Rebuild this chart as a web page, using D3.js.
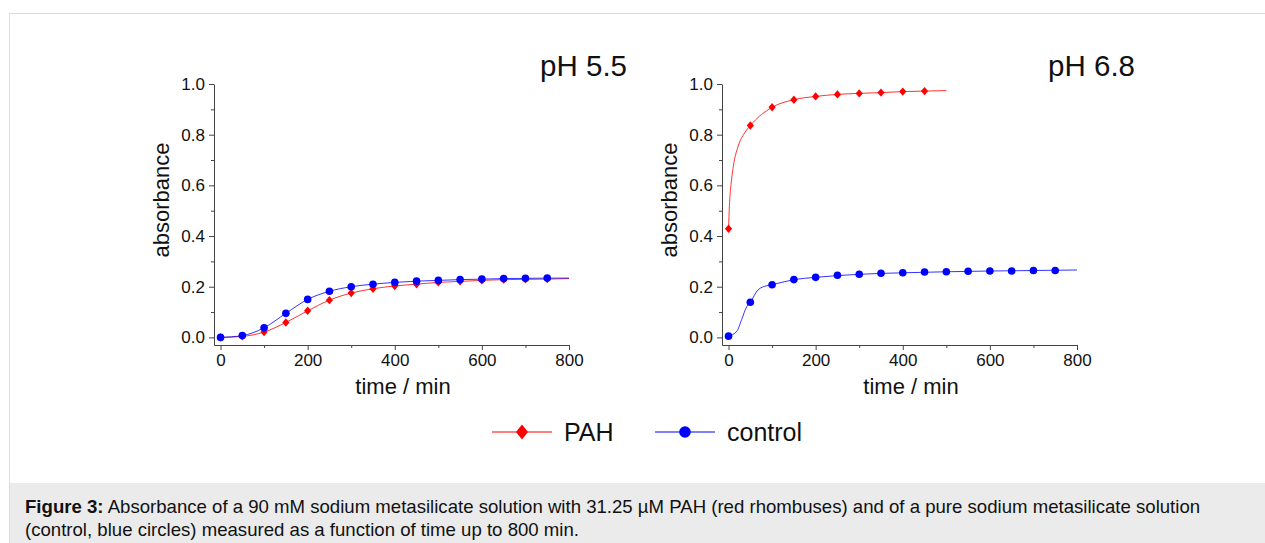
<!DOCTYPE html>
<html>
<head>
<meta charset="utf-8">
<script src="https://cdn.jsdelivr.net/npm/d3@7"></script>
<style>
  body { margin: 0; background: #fff; font-family: "Liberation Sans", Arial, sans-serif; }
  svg text { font-family: "Liberation Sans", Arial, sans-serif; }
</style>
</head>
<body>
<div id="chart"></div>
<script>
let width = 1265
let height = 543

// sampling times (min)
let times = [0, 50, 100, 150, 200, 250, 300, 350, 400, 450, 500, 550, 600, 650, 700, 750]

// pH 5.5 measured absorbance
let pah55 = [0.000, 0.004, 0.021, 0.059, 0.105, 0.147, 0.175, 0.192, 0.203, 0.210, 0.217, 0.221, 0.225, 0.228, 0.229, 0.230]
let ctrl55 = [0.000, 0.007, 0.038, 0.095, 0.150, 0.182, 0.200, 0.210, 0.217, 0.222, 0.225, 0.228, 0.230, 0.232, 0.233, 0.234]

// pH 6.8 measured absorbance (PAH only up to 450 min)
let pah68 = [0.429, 0.836, 0.908, 0.938, 0.951, 0.959, 0.963, 0.966, 0.970, 0.972]
let ctrl68 = [0.005, 0.139, 0.208, 0.228, 0.237, 0.245, 0.249, 0.253, 0.255, 0.258, 0.259, 0.261, 0.262, 0.262, 0.264, 0.264]

// fitted curves
let fitPah55T = [0, 50, 100, 150, 200, 250, 300, 350, 400, 450, 500, 550, 600, 650, 700, 750, 800]
let fitPah55 = [0.000, 0.004, 0.021, 0.059, 0.105, 0.147, 0.175, 0.192, 0.203, 0.210, 0.217, 0.221, 0.225, 0.228, 0.229, 0.230, 0.232]
let fitCtrl55T = [0, 50, 100, 150, 200, 250, 300, 350, 400, 450, 500, 550, 600, 650, 700, 750, 800]
let fitCtrl55 = [0.000, 0.007, 0.038, 0.095, 0.150, 0.182, 0.200, 0.210, 0.217, 0.222, 0.225, 0.228, 0.230, 0.232, 0.233, 0.234, 0.234]
let fitPah68T = [0, 2, 5, 11, 22, 37, 50, 100, 150, 200, 250, 300, 350, 400, 450, 500]
let fitPah68 = [0.429, 0.520, 0.590, 0.675, 0.754, 0.807, 0.836, 0.908, 0.938, 0.951, 0.959, 0.963, 0.966, 0.970, 0.972, 0.974]
let fitCtrl68T = [0, 19, 30, 42, 50, 68, 88, 100, 150, 200, 300, 400, 500, 600, 700, 800]
let fitCtrl68 = [0.005, 0.024, 0.070, 0.122, 0.139, 0.188, 0.204, 0.208, 0.228, 0.237, 0.249, 0.255, 0.259, 0.262, 0.264, 0.266]

let xTicks = [0, 200, 400, 600, 800]
let xMinor = [100, 300, 500, 700]
let yTicks = [0, 0.2, 0.4, 0.6, 0.8, 1.0]
let yMinor = [0.1, 0.3, 0.5, 0.7, 0.9]

let legendNames = ["PAH", "control"]
let red = "#ff0000"
let blue = "#0000ff"

let panels = [
  { title: "pH 5.5", left: 214, series: [
    { t: fitPah55T, v: fitPah55, pt: times, pv: pah55, color: red, shape: "diamond" },
    { t: fitCtrl55T, v: fitCtrl55, pt: times, pv: ctrl55, color: blue, shape: "circle" }
  ]},
  { title: "pH 6.8", left: 722, series: [
    { t: fitPah68T, v: fitPah68, pt: times.slice(0, pah68.length), pv: pah68, color: red, shape: "diamond" },
    { t: fitCtrl68T, v: fitCtrl68, pt: times, pv: ctrl68, color: blue, shape: "circle" }
  ]}
]

let svg = d3.select("#chart").append("svg")
  .attr("width", width)
  .attr("height", height)

// figure frame
svg.append("rect")
  .attr("x", 9.5).attr("y", 13.5)
  .attr("width", width).attr("height", height)
  .attr("fill", "#fff")
  .attr("stroke", "#dcdcdc")

// caption box
svg.append("rect")
  .attr("x", 10).attr("y", 483)
  .attr("width", width - 10).attr("height", height - 483)
  .attr("fill", "#ebebeb")

let diamond = (cx, cy, w, h) => `M${cx},${cy - h}L${cx + w},${cy}L${cx},${cy + h}L${cx - w},${cy}Z`

panels.forEach(p => {
  let x = d3.scaleLinear([-15, 800], [p.left, p.left + 355])
  let y = d3.scaleLinear([-0.03, 1.0], [345, 84])
  let g = svg.append("g")

  // minor ticks
  g.append("g").attr("transform", "translate(0,345)")
    .call(d3.axisBottom(x).tickValues(xMinor).tickSize(3).tickFormat(""))
    .call(a => a.select(".domain").remove())
  g.append("g").attr("transform", `translate(${p.left},0)`)
    .call(d3.axisLeft(y).tickValues(yMinor).tickSize(3).tickFormat(""))
    .call(a => a.select(".domain").remove())

  let xAxis = g.append("g").attr("transform", "translate(0,345)")
    .call(d3.axisBottom(x).tickValues(xTicks).tickSize(5).tickSizeOuter(0).tickPadding(4))
  let yAxis = g.append("g").attr("transform", `translate(${p.left},0)`)
    .call(d3.axisLeft(y).tickValues(yTicks).tickSize(5).tickSizeOuter(0).tickPadding(4).tickFormat(d3.format(".1f")))
  g.selectAll(".tick line, .domain").attr("stroke", "#444")
  g.selectAll(".tick text").attr("font-size", 17).attr("fill", "#111")
  xAxis.selectAll(".tick text").attr("dy", "0.72em")

  // axis titles
  g.append("text")
    .attr("x", p.left + 189).attr("y", 394)
    .attr("text-anchor", "middle").attr("font-size", 22).attr("fill", "#111")
    .text("time / min")
  g.append("text")
    .attr("transform", `translate(${p.left - 45},200) rotate(-90)`)
    .attr("text-anchor", "middle").attr("font-size", 22).attr("fill", "#111")
    .text("absorbance")
  g.append("text")
    .attr("x", p.left + 413).attr("y", 76)
    .attr("text-anchor", "end").attr("font-size", 29.5).attr("fill", "#111")
    .text(p.title)

  p.series.forEach(s => {
    let line = d3.line().x((d, i) => x(s.t[i])).y(d => y(d)).curve(d3.curveMonotoneX)
    g.append("path")
      .attr("d", line(s.v))
      .attr("fill", "none")
      .attr("stroke", s.color)
      .attr("stroke-width", 1)
      .attr("stroke-opacity", 0.8)
    s.pv.forEach((v, i) => {
      if (s.shape == "circle") {
        g.append("circle").attr("cx", x(s.pt[i])).attr("cy", y(v)).attr("r", 3.8).attr("fill", s.color)
      } else {
        g.append("path").attr("d", diamond(x(s.pt[i]), y(v), 3.6, 4.2)).attr("fill", s.color)
      }
    })
  })
})

// legend
let legend = svg.append("g")
let legX = [492, 655]
legendNames.forEach((name, i) => {
  let color = i == 0 ? red : blue
  let lx = legX[i]
  legend.append("line")
    .attr("x1", lx).attr("x2", lx + 60).attr("y1", 432).attr("y2", 432)
    .attr("stroke", color).attr("stroke-width", 1.2)
  if (i == 0) {
    legend.append("path").attr("d", diamond(lx + 30, 432, 6, 7.5)).attr("fill", color)
  } else {
    legend.append("circle").attr("cx", lx + 30).attr("cy", 432).attr("r", 5.8).attr("fill", color)
  }
  legend.append("text")
    .attr("x", lx + 72).attr("y", 441)
    .attr("font-size", 25).attr("fill", "#111")
    .text(name)
})

// caption
let cap = svg.append("text").attr("font-size", 18.6).attr("fill", "#111")
let line1 = cap.append("tspan").attr("x", 25).attr("y", 513)
line1.append("tspan").attr("font-weight", "bold").text("Figure 3:")
line1.append("tspan").text(" Absorbance of a 90 mM sodium metasilicate solution with 31.25 µM PAH (red rhombuses) and of a pure sodium metasilicate solution")
cap.append("tspan").attr("x", 25).attr("y", 536)
  .text("(control, blue circles) measured as a function of time up to 800 min.")
</script>
</body>
</html>
